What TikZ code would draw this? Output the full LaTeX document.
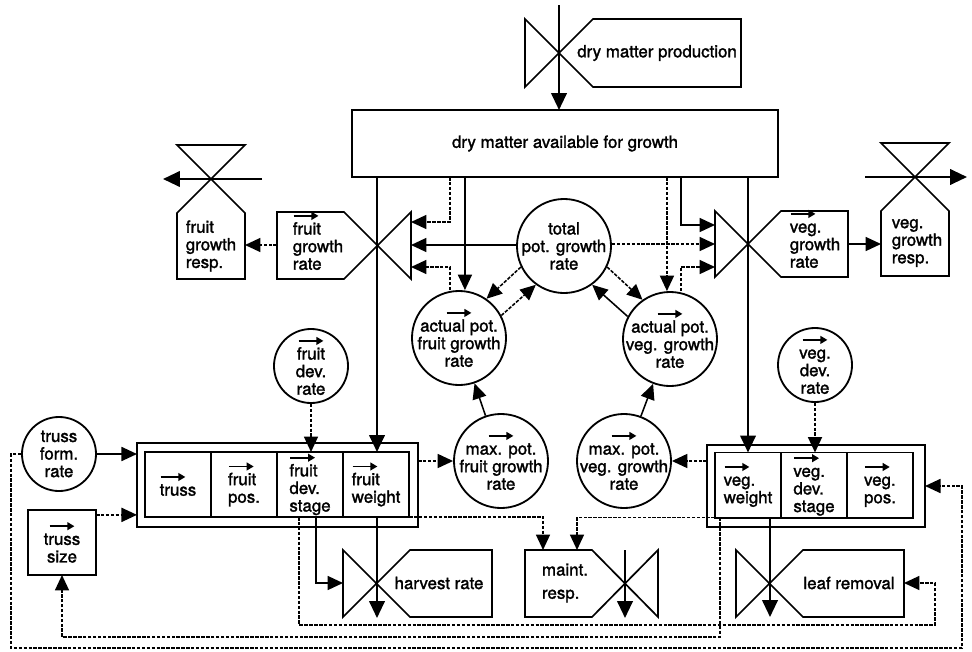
\documentclass[tikz,border=0pt]{standalone}
\usepackage{fontspec}
\setmainfont{TeX Gyre Heros}[FakeBold=1.6]
\usetikzlibrary{positioning}
\usetikzlibrary{calc}
\usetikzlibrary{arrows.meta}
\newcommand{\vecarrow}{\tikz[baseline=-0.6ex]\draw[line width=1.2pt,-{Triangle[length=5pt,width=5.5pt]}] (0,0) -- (0.62cm,0);\\[-3pt]}

\begin{document}
\begin{tikzpicture}[x=0.025cm,y=-0.025cm,font=\fontsize{12}{12.5}\selectfont]
    % Styles
    \tikzset{
        box/.style={draw,line width=1.4pt,inner sep=0pt,outer sep=0pt},
        cell/.style={box,minimum width=1.65cm,minimum height=1.625cm,align=left},
        aux/.style={circle,draw,line width=1.3pt,minimum size=2.35cm,inner sep=0pt},
        smallaux/.style={aux,minimum size=1.85cm},
        txt/.style={inner sep=0pt,align=left},
        ctxt/.style={inner sep=0pt,align=center},
        valve/.style={line width=1.2pt},
        flow/.style={line width=1.6pt,-{Triangle[length=12pt,width=11pt]}},
        link/.style={line width=1.1pt,-{Triangle[length=11pt,width=10pt]}},
        info/.style={link,dash pattern=on 2.5pt off 1pt},
    }
    \useasboundingbox (0,0) rectangle (972,651);

    % Dry matter
    \coordinate (dpv) at (559,53);
    \draw[valve] (dpv) ++(34,-34) -- ++(148,0) -- ++(0,68) -- ++(-148,0) -- ++(-68,-68) -- ++(0,68) -- cycle
        (dpv) ++(0,-48) coordinate (dpin);
    \node[txt,right] (dmp) at (577,53) {dry matter production};
    \node[box,minimum width=10.65cm,minimum height=1.675cm] (dma) at (565,143.5) {dry matter available for growth}
        ($(dma.south west)+(98,0)$) coordinate (dma1)
        ($(dma.south west)+(113,0)$) coordinate (dma2)
        ($(dma.south west)+(315,0)$) coordinate (dma3)
        ($(dma.south west)+(329,0)$) coordinate (dma4);

    % Fruit growth rate and respiration
    \coordinate (fgv) at (377,245);
    \draw[valve] (fgv) ++(-33,-33) -- ++(-67,0) -- ++(0,33) coordinate (fgrw) -- ++(0,34) -- ++(67,0) -- ++(67,-67) -- ++(0,67) -- cycle
        (fgv) ++(34,-23) coordinate (fgin1) ++(0,23) coordinate (fgin2) ++(0,22) coordinate (fgin3);
    \node[txt] (fgr) at (318,241) {\vecarrow fruit\\growth\\rate};
    \coordinate (frv) at (211,179);
    \draw[valve] (frv) ++(-34,-34) -- ++(68,0) -- ++(-68,68) -- ++(0,66) -- ++(68,0) -- ++(0,-34) coordinate (frespe) -- ++(0,-32) -- cycle
        (frv) ++(51,0) coordinate (frin) (frv) ++(-48,0) coordinate (frout);
    \node[txt] (fresp) at (211,246) {fruit\\growth\\resp.};

    % Veg. growth rate and respiration
    \coordinate (vgv) at (748,244);
    \draw[valve] (vgv) ++(33,-33) -- ++(67,0) -- ++(0,33) coordinate (vgre) -- ++(0,33) -- ++(-67,0) -- ++(-66,-66) -- ++(0,66) -- cycle
        (vgv) ++(-33,-19) coordinate (vgin1) ++(0,19) coordinate (vgin2) ++(0,23) coordinate (vgin3);
    \node[txt] (vgr) at (815,239) {\vecarrow veg.\\growth\\rate};
    \coordinate (vrv) at (915,177);
    \draw[valve] (vrv) ++(-34,-34) -- ++(68,0) -- ++(-68,68) -- ++(0,33) coordinate (vrespw) -- ++(0,32) -- ++(68,0) -- ++(0,-65) -- cycle
        (vrv) ++(-50,0) coordinate (vrin) (vrv) ++(52,0) coordinate (vrout);
    \node[txt] (vresp) at (917,243) {veg.\\growth\\resp.};

    % Auxiliaries
    \node[aux,label={[ctxt]center:total\\pot. growth\\rate}] (tot) at (564,246) {};
    \node[aux,label={[ctxt]center:\vecarrow actual pot.\\fruit growth\\rate}] (actf) at (459,338) {};
    \node[aux,label={[ctxt]center:\vecarrow actual pot.\\veg. growth\\rate}] (actv) at (670,339) {};
    \node[aux,label={[ctxt]center:\vecarrow max. pot.\\fruit growth\\rate}] (maxf) at (501,461) {};
    \node[aux,label={[ctxt]center:\vecarrow max. pot.\\veg. growth\\rate}] (maxv) at (624,461) {};
    \node[smallaux,label={[ctxt]center:\vecarrow fruit\\dev.\\rate}] (fdr) at (311,366) {};
    \node[smallaux,label={[ctxt]center:\vecarrow veg.\\dev.\\rate}] (vdr) at (815,365) {};
    \node[smallaux,label={[ctxt]center:truss\\form.\\rate}] (tfr) at (59,454) {};

    % Fruit states
    \node[box,minimum width=7.025cm,minimum height=2.1cm] (frow) at (277.5,485) {};
    \node[cell] (tr) at (178,484.5) {\vecarrow truss};
    \node[cell,right=0pt of tr] (fp) {\vecarrow fruit\\pos.};
    \node[cell,right=0pt of fp] (fds) {\vecarrow fruit\\dev.\\stage};
    \node[cell,right=0pt of fds] (fw) {\vecarrow fruit\\weight};
    \node[box,minimum width=1.7cm,minimum height=1.625cm,align=center] (tsz) at (62,542.5) {\vecarrow truss\\size}
        ($(tsz.east)!0.85!(tsz.north east)$) coordinate (tszout);

    % Veg. states
    \node[box,minimum width=5.45cm,minimum height=2.05cm] (vrow) at (816,486) {};
    \node[cell] (vw) at (748,485) {\vecarrow veg.\\weight};
    \node[cell,right=0pt of vw] (vds) {\vecarrow veg.\\dev.\\stage};
    \node[cell,right=0pt of vds] (vp) {\vecarrow veg.\\pos.};

    % Losses
    \coordinate (hv) at (377,583);
    \draw[valve] (hv) ++(33,-33) -- ++(82,0) -- ++(0,67) -- ++(-82,0) -- ++(-67,-67) -- ++(0,33) coordinate (hvin) -- ++(0,34) -- cycle
        (hv) ++(0,35) coordinate (hvout);
    \node[txt] (harv) at (439,583) {harvest rate};
    \coordinate (mtv) at (625,583);
    \draw[valve] (mtv) ++(-33,-33) -- ++(-15,0) coordinate (mtin2) -- ++(-34,0) coordinate (mtin1) -- ++(-18,0) -- ++(0,67) -- ++(67,0) -- ++(66,-67) -- ++(0,67) -- cycle
        (mtv) ++(0,-33) coordinate (mtflow) ++(0,68) coordinate (mtout);
    \node[txt] (maint) at (565,583) {maint.\\[4pt]resp.};
    \coordinate (lv) at (770,583);
    \draw[valve] (lv) ++(33,-33) -- ++(101,0) -- ++(0,33) coordinate (lfin) -- ++(0,34) -- ++(-101,0) -- ++(-67,-67) -- ++(0,67) -- cycle
        (lv) ++(0,34) coordinate (lvout);
    \node[txt] (leaf) at (849,583) {leaf removal};

    % Flows
    \draw[flow] (dpin) -- (dpin |- dma.north);
    \draw[flow] (fgv |- dma.south) -- (fgv |- fw.north);
    \draw[flow] (vgv |- dma.south) -- (vgv |- vw.north);
    \draw[flow] (frin) -- (frout);
    \draw[flow] (vrin) -- (vrout);
    \draw[flow] (fgv |- fw.south) -- (hvout);
    \draw[flow] (lv |- vw.south) -- (lvout);
    \draw[flow] (mtflow) -- (mtout);

    % Information
    \draw[info] (fgrw) -- (frespe);
    \draw[link] (vgre) -- (vrespw);
    \draw[info] (dma1) |- (fgin1);
    \draw[link] (dma2) -- (dma2 |- actf.north);
    \draw[info] (dma1 |- actf.north) |- (fgin3);
    \draw[link] (tot.west |- fgin2) -- (fgin2);
    \draw[info] (tot.east |- vgin2) -- (vgin2);
    \draw[info] (dma3) -- (dma3 |- actv.north);
    \draw[link] (dma4) |- (vgin1);
    \draw[info] (dma4 |- actv.north) |- (vgin3);
    \draw[info] (tot.206) -- (actf.55);
    \draw[info] (actf.28) -- (tot.234);
    \draw[info] (tot.334) -- (actv.125);
    \draw[link] (actv.152) -- (tot.306);
    \draw[link] (maxf) -- (actf);
    \draw[link] (maxv) -- (actv);
    \draw[info] (maxf -| frow.east) -- (maxf);
    \draw[info] (maxv -| vrow.west) -- (maxv);
    \draw[info] (fdr) -- (fdr |- fds.north);
    \draw[info] (vdr) -- (vdr |- vds.north);
    \draw[link] (tfr) -- (tfr -| frow.west);
    \draw[info] (tszout) -- (tszout -| frow.west);
    \draw[link] ($(fds.south)+(6,0)$) |- (hvin);
    \draw[info] (fw.south east) -| (mtin1);
    \draw[info] (vw.south west) -| (mtin2);

    % Feedback
    \draw[info] ($(fds.south)+(-11,0)$) |- ($(lfin)+(31,42)$) |- (lfin);
    \draw[info] ($(vw.south west)+(5,0)$) |- ($(tsz.south)+(0,62)$) -- (tsz.south);
    \draw[info] (tfr.west) -- ++(-10,0) |- ($(vrow.east)+(37,162)$) |- (vrow.east);
\end{tikzpicture}
\end{document}
